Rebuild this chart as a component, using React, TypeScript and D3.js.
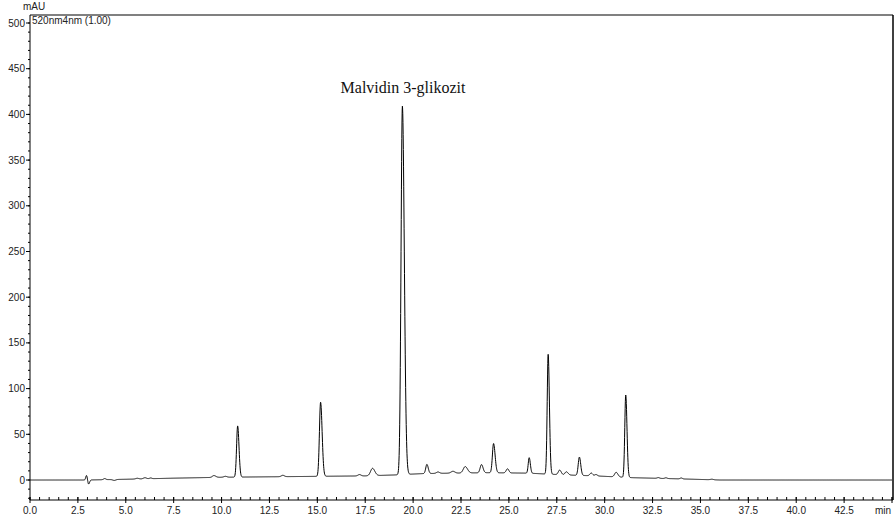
import React from "react";
import * as d3 from "d3";

// Chromatogram peaks: retention time (min), height above baseline (mAU), left/right width (min)
const peakTimes = [2.95, 3.06, 3.9, 4.4, 5.6, 6.0, 6.3, 9.6, 10.2, 10.84, 13.2, 15.17, 17.2, 17.88, 19.44, 20.72, 21.3, 22.08, 22.72, 23.57, 24.2, 24.93, 26.06, 27.05, 27.65, 28.0, 28.68, 29.3, 29.55, 30.6, 31.1, 32.8, 33.2, 34.0, 35.6];
const peakHeights = [5, -4.5, 1.2, -1, 0.8, 1.2, 0.8, 2, 1, 56, 1.5, 81, 1.5, 8, 403, 10, 1.5, 2, 7, 9, 32, 4.5, 17, 131, 5, 3.5, 20, 3, 1.5, 5, 90, 0.8, 0.8, 1, 0.6];
const peakSigmaL = [0.04, 0.04, 0.06, 0.08, 0.08, 0.08, 0.06, 0.08, 0.08, 0.055, 0.08, 0.06, 0.08, 0.1, 0.07, 0.06, 0.08, 0.1, 0.1, 0.07, 0.06, 0.07, 0.05, 0.05, 0.07, 0.07, 0.06, 0.07, 0.07, 0.08, 0.05, 0.06, 0.06, 0.06, 0.08];
const peakSigmaR = [0.04, 0.05, 0.06, 0.08, 0.08, 0.08, 0.06, 0.1, 0.08, 0.07, 0.08, 0.08, 0.08, 0.12, 0.1, 0.07, 0.08, 0.1, 0.12, 0.08, 0.08, 0.07, 0.06, 0.065, 0.08, 0.09, 0.07, 0.07, 0.07, 0.09, 0.065, 0.06, 0.06, 0.06, 0.08];

// Baseline drift
const baseTimes = [0, 3, 5, 7.5, 10, 12.5, 15, 17.5, 19, 20.5, 22, 24, 26, 28, 29.5, 31.5, 34, 36, 45];
const baseValues = [0, 0, 0.8, 2, 3, 3.5, 4, 4.5, 5.5, 7, 7.5, 8, 7.5, 5.5, 4.5, 2.5, 1.2, 0, 0];

const xMajorTicks = [0, 2.5, 5, 7.5, 10, 12.5, 15, 17.5, 20, 22.5, 25, 27.5, 30, 32.5, 35, 37.5, 40, 42.5];
const yMajorTicks = [0, 50, 100, 150, 200, 250, 300, 350, 400, 450, 500];

const W = 896, H = 520;
const left = 30, right = 892, top = 15, bottom = 500;

export default function App() {
  const x = d3.scaleLinear().domain([0, 45]).range([left, right]);
  const y = d3.scaleLinear().domain([0, 500]).range([480, 23]);

  const baseAt = d3.scaleLinear().domain(baseTimes).range(baseValues);
  const samples = d3.range(0, 45.0001, 0.01);
  const signal = samples.map((t) => {
    let v = baseAt(t);
    for (let i = 0; i < peakTimes.length; i++) {
      const d = t - peakTimes[i];
      const s = d < 0 ? peakSigmaL[i] : peakSigmaR[i];
      if (Math.abs(d) < 8 * s) v += peakHeights[i] * Math.exp(-0.5 * (d / s) * (d / s));
    }
    return [t, v] as [number, number];
  });
  const line = d3.line<[number, number]>().x((d) => x(d[0])).y((d) => y(d[1]));

  const xMinor = d3.range(0, 45.001, 0.5);
  const yMinor = d3.range(-20, 508, 10);
  const font = "Liberation Sans, Arial, sans-serif";

  return (
    <svg width={W} height={H} style={{ position: "absolute", left: 0, top: 0 }}>
      <rect width={W} height={H} fill="#fff" />
      {/* frame */}
      <line x1={left} x2={right + 1} y1={top} y2={top} stroke="#808080" strokeWidth={2} />
      <line x1={right + 1} x2={right + 1} y1={top} y2={bottom} stroke="#000" strokeWidth={1.5} />
      <line x1={left} x2={left} y1={top} y2={bottom} stroke="#000" strokeWidth={1} />
      <line x1={left} x2={right + 1} y1={bottom} y2={bottom} stroke="#000" strokeWidth={1} />
      {/* y ticks */}
      {yMinor.map((v) => (
        <line key={"ym" + v} x1={left - 2} x2={left} y1={y(v)} y2={y(v)} stroke="#000" />
      ))}
      {yMajorTicks.map((v) => (
        <g key={"y" + v}>
          <line x1={left - 4} x2={left} y1={y(v)} y2={y(v)} stroke="#000" />
          <text x={left - 5} y={y(v) + 3.5} fontSize={10} fontFamily={font} textAnchor="end" fill="#222">
            {v}
          </text>
        </g>
      ))}
      {/* x ticks */}
      {xMinor.map((v) => (
        <line key={"xm" + v} x1={x(v)} x2={x(v)} y1={bottom - 3} y2={bottom} stroke="#000" />
      ))}
      {xMajorTicks.map((v) => (
        <g key={"x" + v}>
          <line x1={x(v)} x2={x(v)} y1={bottom - 3} y2={bottom + 3} stroke="#000" />
          <text x={x(v)} y={514} fontSize={10} fontFamily={font} textAnchor="middle" fill="#222">
            {v.toFixed(1)}
          </text>
        </g>
      ))}
      <line x1={x(45)} x2={x(45)} y1={bottom - 3} y2={bottom + 3} stroke="#000" />
      <text x={x(45) - 1} y={514} fontSize={10} fontFamily={font} textAnchor="end" fill="#222">
        min
      </text>
      <text x={23} y={10} fontSize={10} fontFamily={font} fill="#222">
        mAU
      </text>
      <text x={32} y={24} fontSize={10} fontFamily={font} fill="#222">
        520nm4nm (1.00)
      </text>
      {/* trace */}
      <path d={line(signal) || ""} fill="none" stroke="#000" strokeWidth={1} />
      <text x={403} y={93} fontSize={16} fontFamily="Liberation Serif, Times New Roman, serif" textAnchor="middle" fill="#111">
        Malvidin 3-glikozit
      </text>
    </svg>
  );
}
